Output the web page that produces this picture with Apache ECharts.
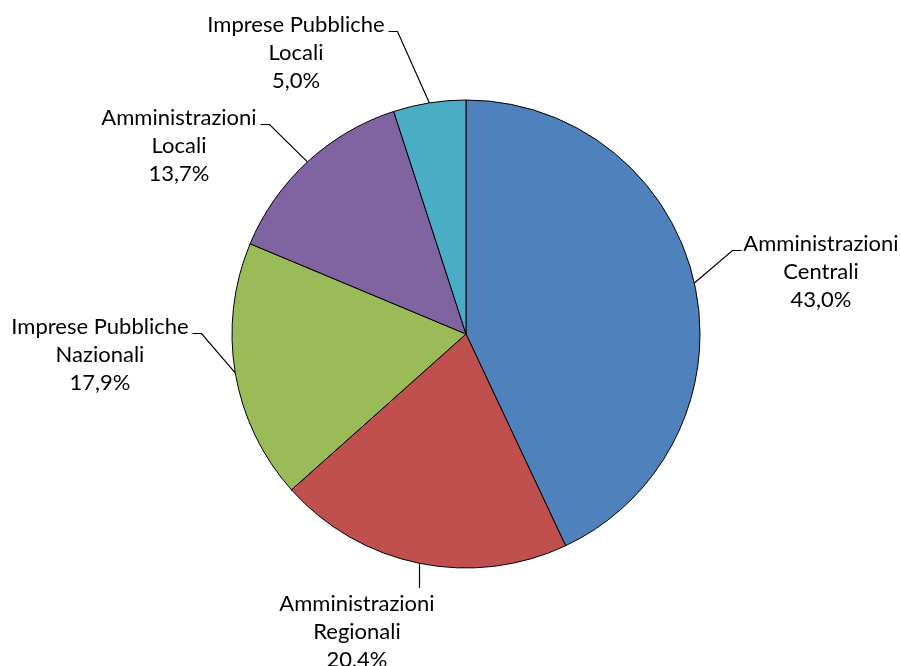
<!DOCTYPE html>
<html>
<head>
<meta charset="utf-8">
<script src="https://cdn.jsdelivr.net/npm/echarts@6/dist/echarts.min.js"></script>
<style>
  html, body { margin: 0; padding: 0; background: #ffffff; }
  #chart { width: 901px; height: 666px; }
</style>
</head>
<body>
<div id="chart"></div>
<script>
// Sector names (clockwise from 12 o'clock) and shares in percent
const categories = [
  'Amministrazioni\nCentrali',
  'Amministrazioni\nRegionali',
  'Imprese Pubbliche\nNazionali',
  'Amministrazioni\nLocali',
  'Imprese Pubbliche\nLocali'
];
const shares = [43.0, 20.4, 17.9, 13.7, 5.0];

// Slice colours
const colors = ['#4F81BD', '#C0504D', '#9BBB59', '#8064A2', '#4BACC6'];

// Label placement: text block centre x, top y, and which side the leader attaches
const labelPlacement = [
  { cx: 821, top: 230, side: 'right' },
  { cx: 357, top: 590, side: 'bottom' },
  { cx: 100, top: 313, side: 'left' },
  { cx: 179, top: 104, side: 'left' },
  { cx: 296, top: 11,  side: 'left' }
];

const FONT = 'Lato';
const FONT_SIZE = 22;
const LINE_H = 28;

const chart = echarts.init(document.getElementById('chart'), null, { renderer: 'canvas' });

const fmt = v => v.toFixed(1).replace('.', ',') + '%';
// snap to pixel centres so 1px leaders stay crisp
const snap = v => Math.round(v - 0.5) + 0.5;

chart.setOption({
  backgroundColor: '#ffffff',
  animation: false,
  color: colors,
  series: [{
    type: 'pie',
    center: [466, 334],
    radius: [0, 234],
    startAngle: 90,
    clockwise: true,
    avoidLabelOverlap: false,
    itemStyle: { borderColor: '#000000', borderWidth: 1 },
    emphasis: { disabled: true },
    label: {
      show: true,
      position: 'outside',
      formatter: p => p.name + '\n' + fmt(p.value),
      fontFamily: FONT,
      fontSize: FONT_SIZE,
      lineHeight: LINE_H,
      color: '#000000',
      align: 'center'
    },
    labelLine: {
      show: true,
      length: 10,
      length2: 10,
      smooth: false,
      lineStyle: { color: '#000000', width: 1.2 }
    },
    labelLayout: params => {
      const place = labelPlacement[params.dataIndex];
      const w = params.labelRect.width;
      const p0 = params.labelLinePoints ? params.labelLinePoints[0] : [0, 0];
      const lineY = snap(place.top + 20);
      let pts;
      if (place.side === 'right') {
        const tx = snap(place.cx - w / 2 - 2);
        pts = [p0, [tx - 9, lineY], [tx, lineY]];
      } else if (place.side === 'left') {
        const tx = snap(place.cx + w / 2 + 4);
        pts = [p0, [tx + 9, lineY], [tx, lineY]];
      } else {
        const x = snap(p0[0]);
        const endY = place.top - 2;
        pts = [[x, p0[1]], [x, (p0[1] + endY) / 2], [x, endY]];
      }
      return {
        x: place.cx,
        y: place.top,
        align: 'center',
        verticalAlign: 'top',
        labelLinePoints: pts
      };
    },
    data: categories.map((name, i) => ({ name: name, value: shares[i] }))
  }]
});
</script>
</body>
</html>
